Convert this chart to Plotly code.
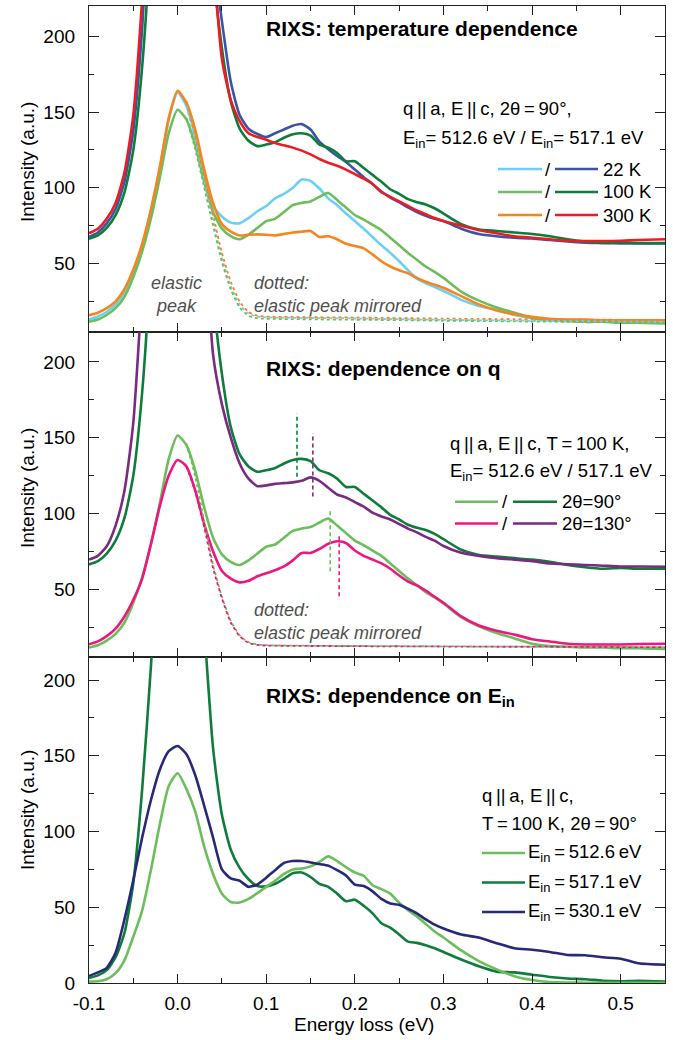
import plotly.graph_objects as go
from plotly.subplots import make_subplots

# ---------------- data ----------------
E = [-0.10, -0.09, -0.08, -0.07, -0.06, -0.05, -0.04, -0.03, -0.02, -0.01,
     0.00, 0.01, 0.02, 0.03, 0.04, 0.05, 0.06, 0.07, 0.08, 0.09,
     0.10, 0.11, 0.12, 0.13, 0.14, 0.15, 0.16, 0.17, 0.18, 0.19,
     0.20, 0.21, 0.22, 0.23, 0.24, 0.25, 0.26, 0.27, 0.28, 0.29,
     0.30, 0.32, 0.34, 0.36, 0.38, 0.40, 0.42, 0.44, 0.46, 0.48,
     0.50, 0.52, 0.55]
E_MIRROR = E[11:]

# top panel: temperature dependence
T22_5126 = [13, 15, 18, 23, 31, 44, 62, 85, 113, 145,
            163, 154, 134, 108, 88, 81, 77, 76.5, 80, 84.5,
            88, 93, 96, 100, 105.5, 104.5, 99.5, 93, 88.5, 83,
            78, 73, 67.5, 62, 57, 51.5, 45.5, 40, 37, 34.5,
            32, 26, 22, 19.5, 16, 14, 12.5, 12, 11.5, 11.5,
            11, 11, 11]
T100_5126 = [11.5, 13, 16, 20.5, 28, 41, 58, 80, 107, 136,
             151.5, 145, 128, 104, 84, 73, 68, 66, 69, 73.5,
             78, 79.5, 84, 88.5, 90, 91, 94, 96.6, 92, 87,
             82, 79, 75.5, 72, 67, 62, 57, 52.5, 48, 44.5,
             40.5, 31.5, 25.5, 21, 17.5, 14, 12.5, 12, 11.5, 11.5,
             11, 11, 10.5]
T300_5126 = [15.8, 17.5, 20.5, 25, 33, 46, 63, 86, 114, 146,
             164, 156, 138, 112, 90, 76, 71, 68.5, 69, 69.2,
             69, 68.5, 69.5, 70.5, 71, 71.5, 67.5, 68, 66, 63,
             61.5, 60, 56, 51.5, 48, 45.5, 43.5, 40.5, 38, 36,
             34, 28.5, 23, 19, 16.5, 14.8, 13.5, 13, 13, 12.5,
             12.5, 12.5, 12.5]
T22_5171 = [67.6, 70.5, 76.5, 86, 104, 138, 205, 310, 440, 560,
            600, 560, 450, 340, 255, 210, 170, 148, 139, 135.5,
            133.5, 136, 138.5, 141, 142, 138.5, 130.5, 125.5, 121, 117,
            112, 107, 102.5, 97.5, 93.5, 90.5, 87, 84, 81.5, 79.5,
            78, 73, 69.5, 68, 67, 66.5, 65.5, 64.5, 63.8, 63.5,
            63.3, 63.3, 63.3]
T100_5171 = [66.3, 68.5, 73.5, 82, 97, 125, 180, 270, 400, 540,
             590, 550, 440, 330, 245, 192, 157, 139, 131, 127.5,
             128.5, 130, 133, 135.3, 136, 134.5, 128.5, 126.5, 123, 117.5,
             117.5, 113, 108.5, 104, 99, 96, 92.5, 90.5, 89, 86.5,
             83, 76, 72.5, 71.5, 70.5, 69.5, 68, 66, 64.5, 63.5,
             64, 63.5, 63.5]
T300_5171 = [70, 73, 79.5, 90, 110, 148, 225, 330, 460, 570,
             610, 570, 460, 350, 255, 185, 158, 144, 136, 133.5,
             131.7, 129.5, 128, 126.5, 124.5, 122, 119, 116.5, 114.5, 112,
             109, 106, 102.5, 97, 94, 91, 88, 85, 82.5, 80,
             78, 75, 72, 70, 68, 67, 66, 65, 64.8, 64.8,
             65, 65.5, 66]
# dotted: elastic peak mirrored (top panel)
M22 = [154, 131, 104, 78, 54, 35, 23, 17, 15, 14.5,
       14.3, 14.2, 14.2, 14.0, 14.1, 13.9, 13.9, 13.8, 13.9, 13.7,
       13.6, 13.6, 13.4, 13.3, 13.3, 13.1, 13.0, 13.0, 12.9, 12.8,
       12.7, 12.5, 12.4, 12.3, 12.2, 12.1, 12.0, 11.9, 11.8, 11.7,
       11.6, 11.5]
M100 = [146, 125, 100, 75, 51, 33, 21, 15.5, 13.8, 13.5,
        13.4, 13.3, 13.3, 13.2, 13.2, 13.1, 13.0, 13.0, 12.9, 12.9,
        12.8, 12.8, 12.7, 12.6, 12.6, 12.5, 12.4, 12.4, 12.3, 12.2,
        12.1, 12.0, 11.9, 11.8, 11.7, 11.6, 11.5, 11.4, 11.3, 11.2,
        11.1, 11.0]
M300 = [157, 134, 108, 82, 57, 38, 25, 18, 15.5, 15,
        14.8, 14.8, 14.7, 14.6, 14.6, 14.5, 14.5, 14.4, 14.4, 14.3,
        14.2, 14.2, 14.1, 14.0, 14.0, 13.9, 13.8, 13.7, 13.7, 13.6,
        13.5, 13.4, 13.3, 13.2, 13.2, 13.1, 13.0, 12.9, 12.9, 12.8,
        12.7, 12.6]

# middle panel: dependence on q (2theta = 130 deg; 90 deg = 100 K curves above)
Q130_5126 = [13.6, 15.5, 19, 24, 32, 43, 57, 80, 105, 125,
             135.3, 131, 115, 93, 75, 62, 57, 54.5, 55.5, 58.5,
             60.5, 62.5, 65, 69, 73.9, 73.9, 76.5, 80, 81.6, 80.5,
             75.5, 72, 69.5, 67, 63.5, 59, 55, 52.5, 49, 45,
             41, 32, 26, 22.5, 20, 17, 15.5, 14, 13.5, 13.5,
             13.5, 13.8, 14]
Q130_5171 = [69.5, 72, 78.3, 92, 115, 160, 250, 350, 480, 570,
             600, 560, 440, 300, 205, 172, 150, 133, 123, 118,
             118.5, 119.5, 120, 120.5, 121.5, 123.8, 121.5, 117, 112.5, 110.5,
             107.5, 104.5, 100.5, 98, 96, 93, 90, 87.5, 84.5, 82,
             78.5, 74, 72, 70.5, 69.5, 68.5, 67, 66.5, 66, 65.5,
             65, 65, 64.8]
MQ90 = [146, 124, 95, 66, 45, 29, 19.5, 15, 13.5, 13,
        12.8, 12.8, 12.7, 12.7, 12.6, 12.6, 12.6, 12.5, 12.5, 12.5,
        12.5, 12.4, 12.4, 12.4, 12.4, 12.3, 12.3, 12.3, 12.2, 12.2,
        12.2, 12.1, 12.1, 12.1, 12.0, 12.0, 12.0, 11.9, 11.9, 11.9,
        11.8, 11.8]
MQ130 = [131, 114, 91, 64, 44, 28, 19, 14.5, 13.2, 12.8,
         12.7, 12.6, 12.6, 12.6, 12.5, 12.5, 12.5, 12.4, 12.4, 12.4,
         12.4, 12.3, 12.3, 12.3, 12.3, 12.2, 12.2, 12.2, 12.2, 12.1,
         12.1, 12.1, 12.0, 12.0, 12.0, 12.0, 11.9, 11.9, 11.9, 11.8,
         11.8, 11.8]
# peak positions marked by dashed lines: (energy, low, high)
PEAK_E = [0.1347, 0.1526, 0.1722, 0.1823]
PEAK_LO = [124.3, 111.2, 61.8, 45.4]
PEAK_HI = [166.0, 152.9, 102.9, 86.0]

# bottom panel: dependence on E_in
B5126 = [0.9, 1.2, 2.5, 6.5, 15, 30.6, 48, 75, 105, 130,
         138.5, 128, 113, 90, 72, 59, 53.5, 53.2, 55.5, 59.3,
         63.5, 67.5, 72, 75, 75.5, 77, 80, 83.6, 80.5, 76.5,
         73, 70.8, 64.5, 62, 59, 53, 48, 44, 39, 34,
         30, 21.5, 14.5, 9, 4.5, 2, 0.6, 0.3, 0.2, 0.2,
         0.2, 0.2, 0.2]
B5171 = [3.3, 5, 8.5, 17, 33, 66, 128, 210, 310, 390,
         420, 390, 310, 235, 155, 111, 88, 76, 68.5, 64,
         63.8, 65.5, 68.8, 72.5, 73, 70, 65.5, 63.5, 59, 54,
         55, 51, 46, 39.5, 36.5, 32, 27.3, 26.5, 25, 23,
         20.5, 15.5, 11, 7.5, 7, 5.5, 4, 3, 2.5, 1.5,
         1.2, 1.5, 1]
B5301 = [4.6, 7, 10, 20, 42, 68, 96, 121, 141, 153,
         156.5, 151, 137, 117, 96, 75, 69, 67.5, 63.5, 65,
         69.5, 74.5, 79.2, 80.5, 80.5, 79.6, 78.5, 77.5, 74.5, 71,
         65, 64, 60.5, 55.5, 52.5, 51.6, 49, 46, 42, 38.5,
         36, 32, 30, 26.3, 23, 22, 20.5, 18.5, 18.3, 17,
         16, 13, 12]

X_TICKS = [-0.1, 0.0, 0.1, 0.2, 0.3, 0.4, 0.5]
X_TICK_LABELS = ["-0.1", "0.0", "0.1", "0.2", "0.3", "0.4", "0.5"]
Y_TICKS = [0, 50, 100, 150, 200]
Y_TICK_LABELS = ["0", "50", "100", "150", "200"]

# ---------------- styling ----------------
C_LB = '#6DCFF6'
C_BL = '#3B55A5'
C_LG = '#6CBE5C'
C_DG = '#0E7D3B'
C_OR = '#F6851F'
C_RD = '#ED1C24'
C_MG = '#EC177F'
C_PU = '#7A2A82'
C_NV = '#262A78'
GRAY = '#505050'
FONT = 'Liberation Sans, Arial, Helvetica, sans-serif'
TS = '\u2009'  # thin space

W, H = 673, 1040
ML, MR, MT, MB = 89, 8, 6, 57
PW = W - ML - MR
PH = H - MT - MB


def px(x):
    return (x - ML) / PW


def py(y):
    return (H - MB - y) / PH


fig = make_subplots(rows=3, cols=1, shared_xaxes=True, vertical_spacing=0)

LW = 2.6


def line(row, x, y, color, dash=None, width=LW):
    fig.add_trace(go.Scatter(x=x, y=y, mode='lines',
                             line=dict(color=color, width=width, dash=dash,
                                       shape='spline', smoothing=0.6),
                             showlegend=False, hoverinfo='skip'),
                  row=row, col=1)


# top panel
line(1, E, T22_5171, C_BL)
line(1, E, T100_5171, C_DG)
line(1, E, T300_5171, C_RD)
line(1, E, T22_5126, C_LB)
line(1, E, T100_5126, C_LG)
line(1, E, T300_5126, C_OR)
line(1, E_MIRROR, M22, C_LB, dash='dot', width=1.8)
line(1, E_MIRROR, M100, C_LG, dash='dot', width=1.8)
line(1, E_MIRROR, M300, C_OR, dash='dot', width=1.8)

# middle panel
line(2, E, T100_5171, C_DG)
line(2, E, Q130_5171, C_PU)
line(2, E, T100_5126, C_LG)
line(2, E, Q130_5126, C_MG)
line(2, E_MIRROR, MQ90, C_LG, dash='dot', width=1.8)
line(2, E_MIRROR, MQ130, C_MG, dash='dot', width=1.8)
for e, lo, hi, c in zip(PEAK_E, PEAK_LO, PEAK_HI, [C_DG, C_PU, C_LG, C_MG]):
    fig.add_trace(go.Scatter(x=[e, e], y=[lo, hi], mode='lines',
                             line=dict(color=c, width=1.6, dash='4px,3px'),
                             showlegend=False, hoverinfo='skip'), row=2, col=1)

# bottom panel
line(3, E, B5171, C_DG)
line(3, E, B5126, C_LG)
line(3, E, B5301, C_NV)

# ---------------- axes ----------------
tickfont = dict(family=FONT, size=19, color='black')
common_x = dict(range=[-0.1, 0.55], ticks='inside', ticklen=9, tickwidth=1.2,
                tickcolor='#222',
                minor=dict(dtick=0.05, tick0=0, ticks='inside', ticklen=5,
                           tickwidth=1.2, tickcolor='#222'),
                showline=True, linecolor='#222', linewidth=1.3, mirror='ticks',
                showgrid=False, zeroline=False)
for r in (1, 2):
    fig.update_xaxes(tickmode='linear', tick0=0, dtick=0.1, showticklabels=False,
                     row=r, col=1, **common_x)
fig.update_xaxes(tickvals=X_TICKS, ticktext=X_TICK_LABELS, tickfont=tickfont,
                 showticklabels=True, ticklabelposition='outside',
                 ticklabelstandoff=3, row=3, col=1, **common_x)
for r in (1, 2, 3):
    fig.update_yaxes(range=[5, 220] if r < 3 else [0, 215],
                     tickvals=Y_TICKS, ticktext=Y_TICK_LABELS,
                     ticks='inside', ticklen=10, tickwidth=1.2, tickcolor='#222',
                     minor=dict(dtick=25, tick0=0, ticks='inside', ticklen=5,
                                tickwidth=1.2, tickcolor='#222'),
                     showline=True, linecolor='#222', linewidth=1.3, mirror='ticks',
                     showgrid=False, zeroline=False, tickfont=tickfont,
                     ticklabelposition='outside', ticklabelstandoff=9,
                     row=r, col=1)

# ---------------- texts ----------------


def text(x, y, s, size=18, anchor='left', color='black', angle=0, align='left'):
    fig.add_annotation(x=px(x), y=py(y), xref='paper', yref='paper', text=s,
                       showarrow=False, xanchor=anchor, yanchor='middle',
                       textangle=angle, align=align,
                       font=dict(family=FONT, size=size, color=color))


def seg(x0, x1, y, color):
    fig.add_shape(type='line', xref='paper', yref='paper',
                  x0=px(x0), x1=px(x1), y0=py(y), y1=py(y),
                  line=dict(color=color, width=LW))


# axis titles
for cy in (162, 488, 810):
    text(27, cy, 'Intensity (a.u.)', size=19, anchor='center', angle=-90)
text(364, 1024, 'Energy loss (eV)', size=19, anchor='center')

PAR = f'q{TS}||{TS}a, E{TS}||{TS}c'

# top panel texts
text(264, 28.5, '<b>RIXS: temperature dependence</b>', size=21)
text(401, 108.5, f'{PAR}, 2θ{TS}={TS}90°,', size=18.5)
text(401, 138.5, 'E<sub>in</sub>= 512.6 eV / E<sub>in</sub>= 517.1 eV', size=18.5)
for cy, c1, c2, lab in ((169, C_LB, C_BL, '22 K'), (192, C_LG, C_DG, '100 K'),
                        (215, C_OR, C_RD, '300 K')):
    seg(498, 542, cy, c1)
    seg(555, 598, cy, c2)
    text(548, cy, '/', size=18.5, anchor='center')
    text(601, cy, lab, size=18.5)
text(176, 294.5, '<i>elastic<br>peak</i>', size=18, anchor='center', color=GRAY, align='center')
text(252, 294.5, '<i>dotted:<br>elastic peak mirrored</i>', size=18, color=GRAY)

# middle panel texts
text(264, 368.5, '<b>RIXS: dependence on q</b>', size=21)
text(448, 443, f'{PAR}, T{TS}={TS}100 K,', size=18.5)
text(448, 472, 'E<sub>in</sub>= 512.6 eV / 517.1 eV', size=18.5)
for cy, c1, c2, lab in ((501.7, C_LG, C_DG, '2θ=90°'), (523.5, C_MG, C_PU, '2θ=130°')):
    seg(455, 498, cy, c1)
    seg(513, 557, cy, c2)
    text(505, cy, '/', size=18.5, anchor='center')
    text(560, cy, lab, size=18.5)
text(252, 621, '<i>dotted:<br>elastic peak mirrored</i>', size=18, color=GRAY)

# bottom panel texts
text(264, 697, '<b>RIXS: dependence on E<sub>in</sub></b>', size=21)
text(480, 795, f'{PAR},', size=18.5)
text(480, 823, f'T{TS}={TS}100 K, 2θ{TS}={TS}90°', size=18.5)
for cy, c, lab in ((853, C_LG, f'E<sub>in</sub>{TS}={TS}512.6{TS}eV'),
                   (882.5, C_DG, f'E<sub>in</sub>{TS}={TS}517.1{TS}eV'),
                   (912, C_NV, f'E<sub>in</sub>{TS}={TS}530.1{TS}eV')):
    seg(482, 525, cy, c)
    text(526, cy, lab, size=18.5)

fig.update_layout(width=W, height=H,
                  margin=dict(l=ML, r=MR, t=MT, b=MB, pad=0),
                  paper_bgcolor='white', plot_bgcolor='white',
                  font=dict(family=FONT, color='black'),
                  showlegend=False)

fig.write_html('out.html')
